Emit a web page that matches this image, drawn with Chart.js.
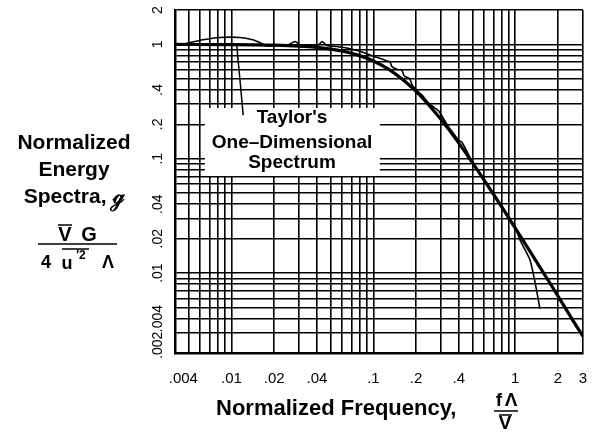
<!DOCTYPE html>
<html>
<head>
<meta charset="utf-8">
<script src="https://cdn.jsdelivr.net/npm/chart.js@4"></script>
<style>
  html, body { margin: 0; padding: 0; background: #fff; }
</style>
</head>
<body>
<canvas id="chart" width="592" height="436"></canvas>
<script>
// Taylor's one-dimensional spectrum (smooth heavy curve)
const taylorFreq = [0.004, 0.01, 0.02, 0.03, 0.04, 0.05, 0.06, 0.08, 0.1, 0.13, 0.16, 0.2, 0.25, 0.3, 0.4, 0.5, 0.6, 0.8, 1, 1.3, 1.6, 2, 2.5, 3]
const taylorSpectrum = [0.999, 0.996, 0.984, 0.966, 0.941, 0.91, 0.876, 0.798, 0.717, 0.6, 0.497, 0.388, 0.288, 0.22, 0.137, 0.092, 0.0658, 0.0381, 0.0247, 0.0148, 0.0098, 0.0063, 0.004, 0.0028]

// measured spectrum (thin line)
const measuredFreq = [0.0048, 0.0063, 0.0083, 0.0115, 0.0141, 0.0158, 0.0177, 0.021, 0.025, 0.028, 0.031, 0.036, 0.041, 0.0435, 0.047, 0.055, 0.065, 0.08, 0.1, 0.12, 0.131, 0.135, 0.15, 0.158, 0.165, 0.18, 0.19, 0.22, 0.25, 0.28, 0.29, 0.33, 0.4, 0.42, 0.5, 0.6, 0.8, 1, 1.08, 1.27, 1.4, 1.49]
const measuredSpectrum = [1.02, 1.1, 1.15, 1.15, 1.1, 1.04, 0.97, 0.98, 0.99, 1.06, 0.98, 0.98, 0.99, 1.06, 0.98, 0.96, 0.93, 0.87, 0.79, 0.73, 0.7, 0.64, 0.6, 0.6, 0.53, 0.5, 0.43, 0.36, 0.3, 0.27, 0.26, 0.2, 0.145, 0.14, 0.094, 0.067, 0.039, 0.025, 0.0194, 0.013, 0.0075, 0.0049]

const xTickValues = [0.004, 0.01, 0.02, 0.04, 0.1, 0.2, 0.4, 1, 2, 3]
const xTickLabels = ['.004', '.01', '.02', '.04', '.1', '.2', '.4', '1', '2', '3']
const yTickValues = [0.002, 0.004, 0.01, 0.02, 0.04, 0.1, 0.2, 0.4, 1, 2]
const yTickLabels = ['.002', '.004', '.01', '.02', '.04', '.1', '.2', '.4', '1', '2']

const boldFont = '"Liberation Sans", Arial, sans-serif'

// log paper lines: 1..9 per decade
function logGrid(min, max) {
  const vals = [min]
  for (let e = Math.floor(Math.log10(min)); e <= Math.ceil(Math.log10(max)); e++) {
    for (let d = 1; d <= 9; d++) {
      const v = +(d * Math.pow(10, e)).toPrecision(3)
      if (v > min * 1.0001 && v < max * 0.9999) vals.push(v)
    }
  }
  vals.push(max)
  return vals
}

// corner labels get pushed inward with figure spaces, like on the paper
function labelFor(values, labels, firstShift) {
  return (v, i) => {
    const k = values.findIndex(t => Math.abs(t - v) / t < 1e-6)
    if (k < 0) return ''
    return i === 0 ? firstShift + labels[k] : labels[k]
  }
}

// let layout.padding alone decide the plot area
function noPad(scale) {
  scale.paddingTop = 0
  scale.paddingBottom = 0
  scale.paddingLeft = 0
  scale.paddingRight = 0
}

const paperPlugin = {
  id: 'paper',
  beforeDatasetsDraw(chart) {
    const { ctx, scales: { x, y } } = chart
    // white label box over the grid
    const l = x.getPixelForValue(0.0065), r = x.getPixelForValue(0.111)
    const t = y.getPixelForValue(0.278), b = y.getPixelForValue(0.0706)
    ctx.save()
    ctx.fillStyle = '#fff'
    ctx.fillRect(l, t, r - l, b - t)
    ctx.restore()
  },
  afterDatasetsDraw(chart) {
    const { ctx, scales: { x, y } } = chart
    ctx.save()
    ctx.strokeStyle = '#000'
    ctx.lineWidth = 1.5
    ctx.beginPath()
    ctx.moveTo(x.getPixelForValue(0.0109), y.getPixelForValue(0.97))
    ctx.lineTo(x.getPixelForValue(0.0121), y.getPixelForValue(0.24))
    ctx.stroke()

    ctx.fillStyle = '#000'
    ctx.font = 'bold 19px ' + boldFont
    ctx.textAlign = 'center'
    ctx.textBaseline = 'middle'
    const cx = x.getPixelForValue(0.0267)
    ctx.fillText("Taylor's", cx, y.getPixelForValue(0.227))
    ctx.fillText('One\u2013Dimensional', cx, y.getPixelForValue(0.137))
    ctx.fillText('Spectrum', cx, y.getPixelForValue(0.0918))
    ctx.restore()
  },
  afterDraw(chart) {
    const { ctx } = chart
    ctx.save()
    ctx.fillStyle = '#000'
    ctx.strokeStyle = '#000'
    ctx.textBaseline = 'middle'
    ctx.textAlign = 'center'

    // y title
    ctx.font = 'bold 21px ' + boldFont
    ctx.fillText('Normalized', 74, 143)
    ctx.fillText('Energy', 74, 170)
    ctx.fillText('Spectra, \u210A', 74, 197)

    ctx.font = 'bold 20px ' + boldFont
    ctx.fillText('V', 65, 235)
    ctx.fillText('G', 89, 235)
    ctx.lineWidth = 1.5
    ctx.beginPath()
    ctx.moveTo(58, 225); ctx.lineTo(72, 225)
    ctx.moveTo(38, 244); ctx.lineTo(117, 244)
    ctx.moveTo(62, 249); ctx.lineTo(89, 249)
    ctx.stroke()
    ctx.font = 'bold 18px ' + boldFont
    ctx.fillText('4', 46, 263)
    ctx.fillText('u', 67, 264)
    ctx.fillText('\u039B', 108, 263)
    ctx.font = 'bold 12px ' + boldFont
    ctx.fillText('\u20322', 81, 256)

    // x title
    ctx.font = 'bold 22px ' + boldFont
    ctx.textAlign = 'left'
    ctx.fillText('Normalized Frequency,', 216, 409)
    ctx.textAlign = 'center'
    ctx.font = 'bold 19px ' + boldFont
    ctx.fillText('f', 499, 401)
    ctx.fillText('\u039B', 511, 401)
    ctx.fillText('V', 505, 424)
    ctx.beginPath()
    ctx.moveTo(494, 411); ctx.lineTo(518, 411)
    ctx.moveTo(499, 415); ctx.lineTo(512, 415)
    ctx.stroke()
    ctx.restore()
  }
}

new Chart('chart', {
  type: 'line',
  data: {
    datasets: [{
      data: taylorFreq.map((f, i) => ({ x: f, y: taylorSpectrum[i] })),
      borderColor: '#000',
      borderWidth: 3.2,
      pointRadius: 0,
      cubicInterpolationMode: 'monotone'
    }, {
      data: measuredFreq.map((f, i) => ({ x: f, y: measuredSpectrum[i] })),
      borderColor: '#000',
      borderWidth: 1.6,
      pointRadius: 0,
      tension: 0.2
    }]
  },
  options: {
    responsive: false,
    animation: false,
    layout: { padding: { top: 10, right: 9, left: 0, bottom: 0 } },
    plugins: { legend: { display: false }, tooltip: { enabled: false } },
    scales: {
      x: {
        type: 'logarithmic',
        min: 0.004,
        max: 3,
        afterBuildTicks: (scale) => { scale.ticks = logGrid(0.004, 3).map(v => ({ value: v })) },
        afterFit: (scale) => { scale.height = 83; noPad(scale) },
        grid: { color: '#000', lineWidth: 1.6, drawTicks: false },
        border: { color: '#000', width: 2.5 },
        ticks: {
          autoSkip: false,
          maxRotation: 0,
          padding: 17,
          color: '#000',
          font: { family: boldFont, size: 15 },
          callback: labelFor(xTickValues, xTickLabels, '\u2007\u2007')
        }
      },
      y: {
        type: 'logarithmic',
        min: 0.002,
        max: 2,
        afterBuildTicks: (scale) => { scale.ticks = logGrid(0.002, 2).map(v => ({ value: v })) },
        afterFit: (scale) => { scale.width = 175; noPad(scale) },
        grid: { color: '#000', lineWidth: 1.6, drawTicks: false },
        border: { color: '#000', width: 2.5 },
        ticks: {
          autoSkip: false,
          minRotation: 90,
          maxRotation: 90,
          crossAlign: 'center',
          padding: -5,
          color: '#000',
          font: { family: boldFont, size: 14 },
          callback: labelFor(yTickValues, yTickLabels, '\u2007\u2007')
        }
      }
    }
  },
  plugins: [paperPlugin]
})
</script>
</body>
</html>
